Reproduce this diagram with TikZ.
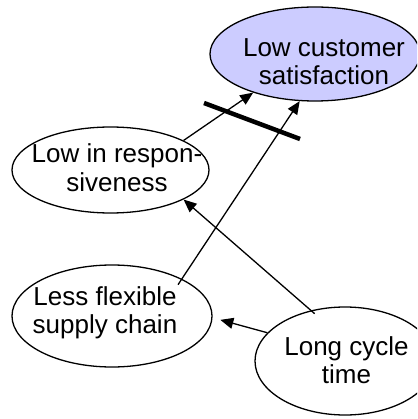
\documentclass[tikz,border=0pt]{standalone}
\usepackage{fontspec}
\setmainfont{Liberation Sans}
\usetikzlibrary{shapes.geometric,arrows.meta}
\definecolor{lavender}{RGB}{204,204,255}
\begin{document}
\begin{tikzpicture}[x=1pt,y=-1pt,
  bubble/.style={ellipse,draw,line width=1.3pt,inner sep=0pt},
  words/.style={anchor=base,inner sep=0pt,font=\fontsize{26}{29}\selectfont},
  link/.style={line width=1.3pt,-{Triangle[length=13pt,width=11pt]}}]
\useasboundingbox (0,0) rectangle (417,419);
\begin{scope}
\clip (0,0) rectangle (417,419);
% the four ellipses
\node[bubble,fill=lavender,minimum width=210pt,minimum height=94pt] (lcs) at (315,54) {};
\node[bubble,minimum width=197pt,minimum height=86pt] (lir) at (110.5,170) {};
\node[bubble,minimum width=200pt,minimum height=102pt] (lfs) at (112,316) {};
\node[bubble,minimum width=180pt,minimum height=108pt] (lct) at (345,361) {};
\end{scope}
% their texts
\node[words] (lcsa) at (324,57) {Low customer};
\node[words] (lcsb) at (324,85) {satisfaction};
\node[words] (lira) at (117,163) {Low in respon-};
\node[words] (lirb) at (117,192) {siveness};
\node[words] (lfsa) at (105,305) {Less flexible};
\node[words] (lfsb) at (105,333) {supply chain};
\node[words] (lcta) at (346.5,355) {Long cycle};
\node[words] (lctb) at (346.5,383) {time};
% causal links
\draw[link] (lir.22) -- (lcs.212);
\draw[link,shorten <=-7pt] (lfs.28) -- (lcs.252);
\draw[link,shorten <=-5pt] (lct.124.5) -- (lir.-22.5);
\draw[link,shorten >=8pt] (lct.160) -- (lfs.-1);
% delay mark across the two upper links
\draw[line width=4.5pt] (204,103) -- (300,139);
\end{tikzpicture}
\end{document}
